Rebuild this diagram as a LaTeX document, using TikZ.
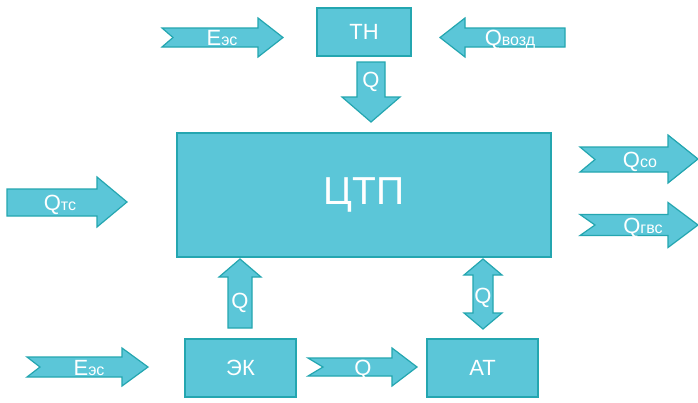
\documentclass[tikz,border=0pt]{standalone}
\usepackage{fontspec}
\setmainfont{Liberation Sans}
\definecolor{tealfill}{RGB}{91,198,216}
\definecolor{tealedge}{RGB}{36,166,176}
\newcommand\subtxt[1]{{\fontsize{16}{16}\selectfont #1}}

\begin{document}
\begin{tikzpicture}[x=1pt, y=-1pt,
    block/.style = {draw=tealedge, fill=tealfill, line width=1.5pt, text=white, inner sep=0pt, font=\fontsize{22}{22}\selectfont},
    flow/.style = {draw=tealedge, fill=tealfill, line width=1.2pt},
    lbl/.style = {text=white, anchor=base, inner sep=0pt, font=\fontsize{22}{22}\selectfont}]
\useasboundingbox[fill=white] (0,0) rectangle (698,402);

% units
\node[block, minimum width=94pt, minimum height=48pt] (tn) at (364,32) {ТН};
\node[block, minimum width=374pt, minimum height=124pt, font=\fontsize{39}{39}\selectfont] (ctp) at (364,195) {ЦТП};
\node[block, minimum width=111pt, minimum height=58pt] (ek) at (240.5,368) {ЭК};
\node[block, minimum width=111pt, minimum height=58pt] (at) at (482.5,368) {АТ};

% flows into and out of the units
\draw[flow] (162,28) -- (258,28) -- (258,18) -- (283,37.5) -- (258,57) -- (258,47) -- (162,47) -- (173,37.5) -- cycle;
\draw[flow] (565,28) -- (465,28) -- (465,18) -- (440,37.5) -- (465,57) -- (465,47) -- (565,47) -- cycle;
\draw[flow] (357,62) -- (357,97) -- (342,97) -- (371,122) -- (400,97) -- (385,97) -- (385,62) -- cycle;
\draw[flow] (7,189) -- (97,189) -- (97,177) -- (127,202) -- (97,227) -- (97,216) -- (7,216) -- cycle;
\draw[flow] (580,147) -- (668,147) -- (668,135) -- (698,159) -- (668,183) -- (668,172) -- (580,172) -- (595,159.5) -- cycle;
\draw[flow] (580,214.5) -- (668,214.5) -- (668,202.5) -- (698,225) -- (668,247.5) -- (668,235.5) -- (580,235.5) -- (595,225) -- cycle;
\draw[flow] (228,328) -- (228,277) -- (219,277) -- (240,259) -- (261,277) -- (252,277) -- (252,328) -- cycle;
\draw[flow] (27,357) -- (122,357) -- (122,348) -- (148,367) -- (122,386) -- (122,377) -- (27,377) -- (40,367) -- cycle;
\draw[flow] (308,358) -- (392,358) -- (392,348) -- (417,367) -- (392,386) -- (392,376) -- (308,376) -- (323,367) -- cycle;
\draw[flow] (473,275) -- (464,275) -- (483,259) -- (502,275) -- (493,275) -- (493,313) -- (502,313) -- (483,329) -- (464,313) -- (473,313) -- cycle;

% labels
\node[lbl] (eTopLbl) at (222,45) {E\subtxt{эс}};
\node[lbl] (qVozdLbl) at (510,45) {Q\subtxt{возд}};
\node[lbl] (qDownLbl) at (371,87) {Q};
\node[lbl] (qTcLbl) at (60,210) {Q\subtxt{тс}};
\node[lbl] (qCoLbl) at (640,167) {Q\subtxt{со}};
\node[lbl] (qGvsLbl) at (643,233) {Q\subtxt{гвс}};
\node[lbl] (qUpLbl) at (240,308) {Q};
\node[lbl] (eBotLbl) at (89,375) {E\subtxt{эс}};
\node[lbl] (qRightLbl) at (363,375) {Q};
\node[lbl] (qDblLbl) at (483,303) {Q};
\end{tikzpicture}
\end{document}
